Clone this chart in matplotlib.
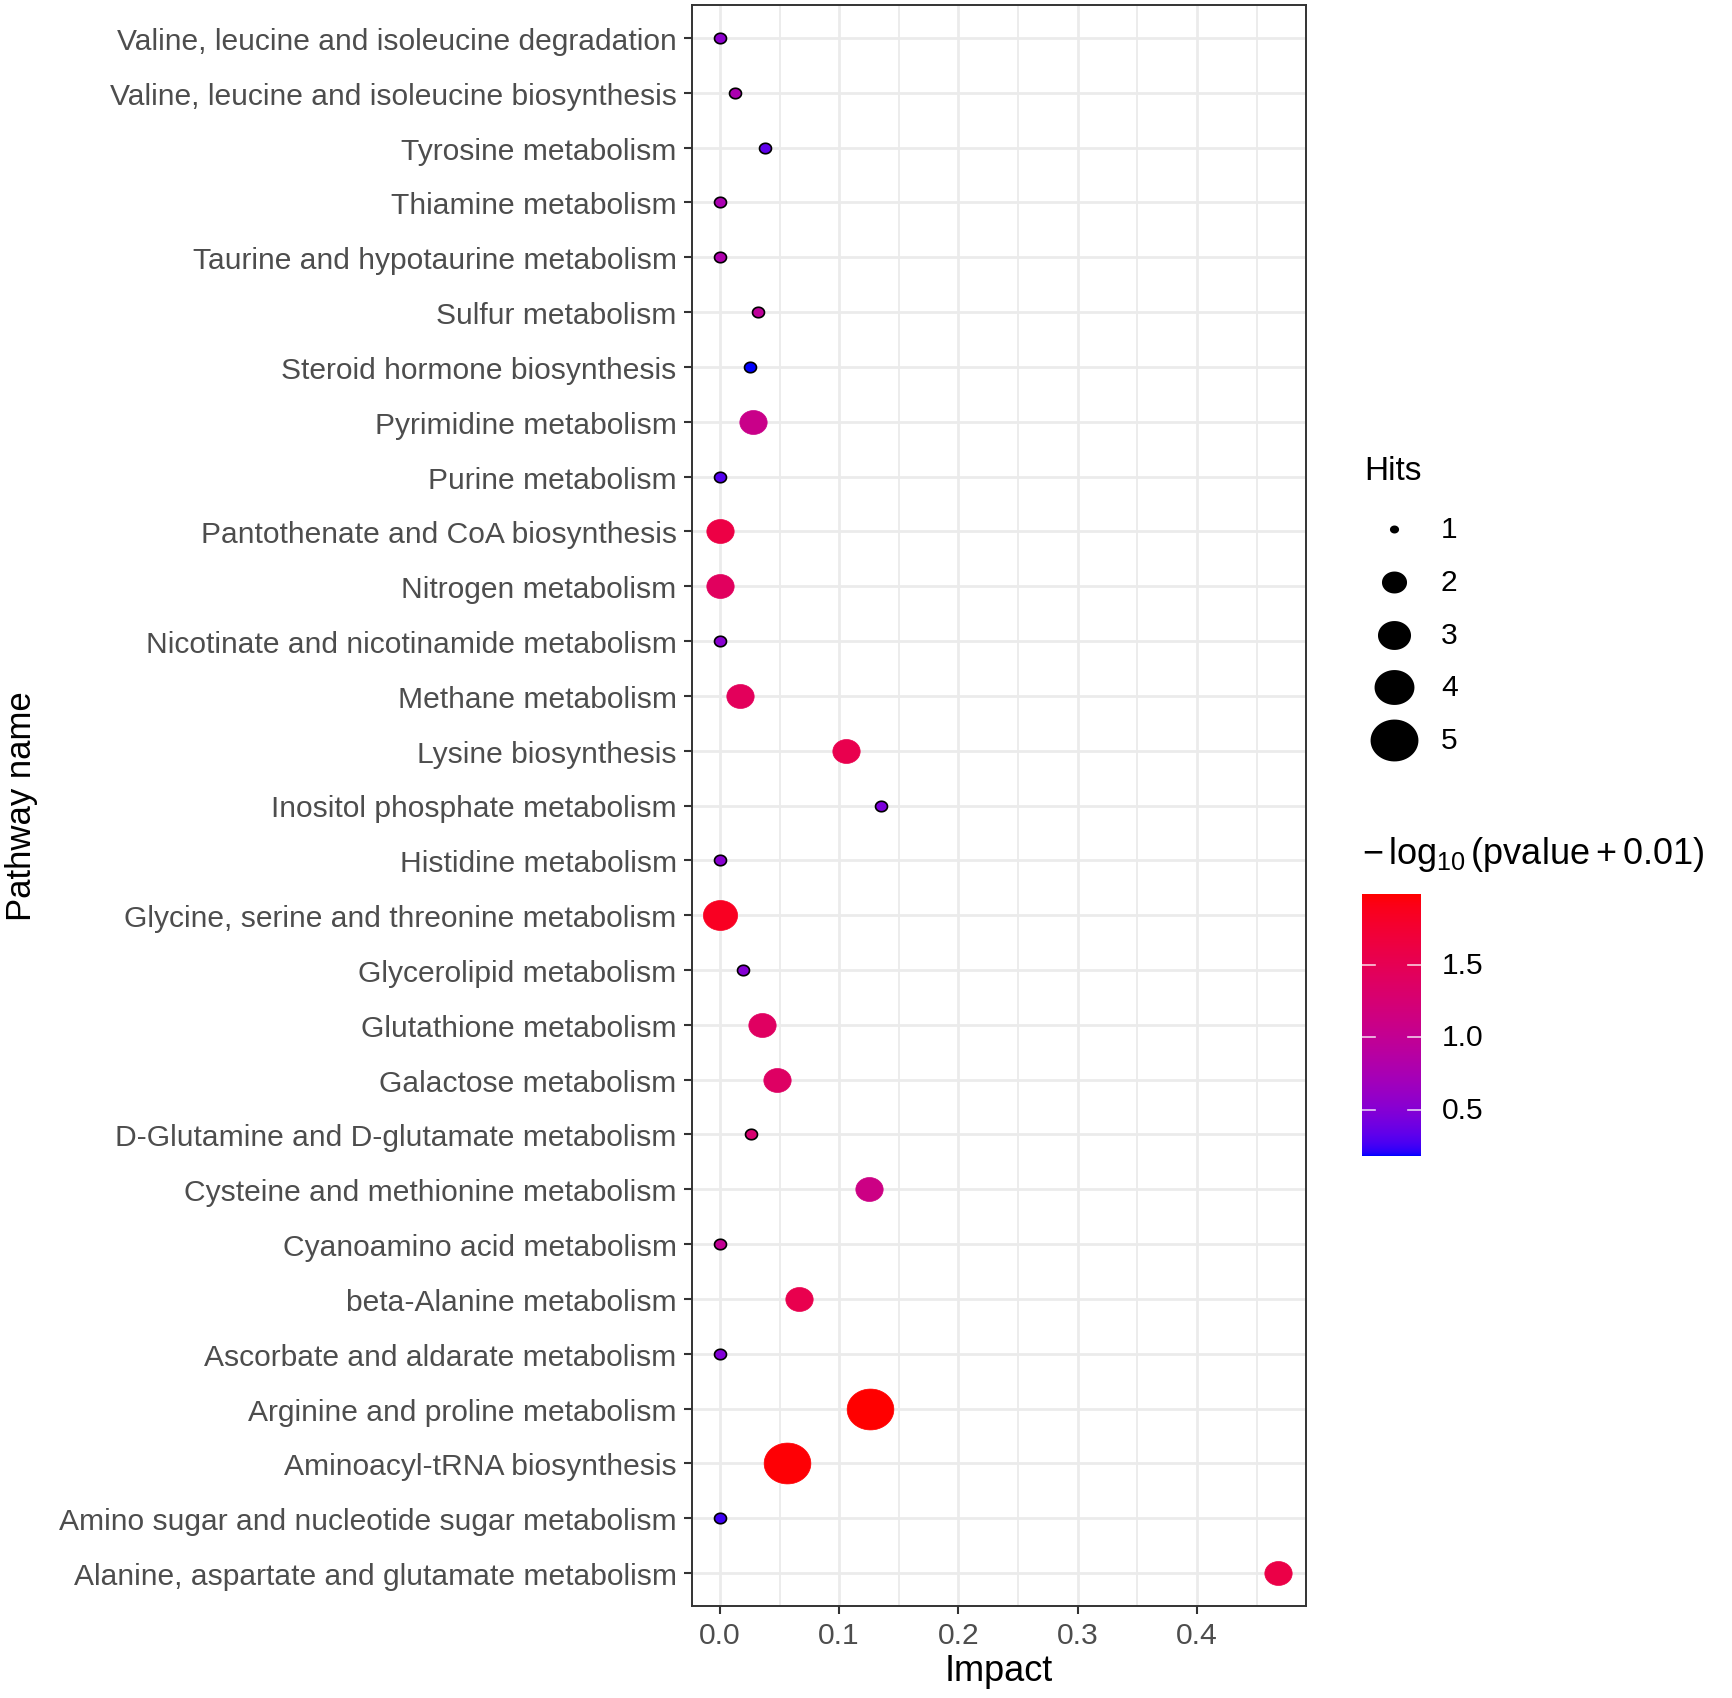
import numpy as np
import matplotlib
matplotlib.use("Agg")
from matplotlib import pyplot as plt
from matplotlib.path import Path
from matplotlib.markers import MarkerStyle
from matplotlib.colors import ListedColormap, Normalize

plt.rcParams['font.family'] = ['Liberation Sans', 'DejaVu Sans']
plt.rcParams['mathtext.fontset'] = 'custom'
plt.rcParams['mathtext.rm'] = 'Liberation Sans'
plt.rcParams['mathtext.it'] = 'Liberation Sans:italic'

# pathways, listed top to bottom as in the chart
pathways = [
    "Valine, leucine and isoleucine degradation",
    "Valine, leucine and isoleucine biosynthesis",
    "Tyrosine metabolism",
    "Thiamine metabolism",
    "Taurine and hypotaurine metabolism",
    "Sulfur metabolism",
    "Steroid hormone biosynthesis",
    "Pyrimidine metabolism",
    "Purine metabolism",
    "Pantothenate and CoA biosynthesis",
    "Nitrogen metabolism",
    "Nicotinate and nicotinamide metabolism",
    "Methane metabolism",
    "Lysine biosynthesis",
    "Inositol phosphate metabolism",
    "Histidine metabolism",
    "Glycine, serine and threonine metabolism",
    "Glycerolipid metabolism",
    "Glutathione metabolism",
    "Galactose metabolism",
    "D-Glutamine and D-glutamate metabolism",
    "Cysteine and methionine metabolism",
    "Cyanoamino acid metabolism",
    "beta-Alanine metabolism",
    "Ascorbate and aldarate metabolism",
    "Arginine and proline metabolism",
    "Aminoacyl-tRNA biosynthesis",
    "Amino sugar and nucleotide sugar metabolism",
    "Alanine, aspartate and glutamate metabolism",
]
impact = [0.0, 0.013, 0.038, 0.0, 0.0, 0.032, 0.025, 0.028, 0.0, 0.0,
          0.0, 0.0, 0.017, 0.106, 0.135, 0.0, 0.0, 0.019, 0.035, 0.048,
          0.026, 0.125, 0.0, 0.066, 0.0, 0.1255, 0.056, 0.0, 0.468]
hits = [1, 1, 1, 1, 1, 1, 1, 2, 1, 2,
        2, 1, 2, 2, 1, 1, 3, 1, 2, 2,
        1, 2, 1, 2, 1, 5, 5, 1, 2]
neglogp = [0.55, 0.78, 0.33, 0.76, 0.8, 0.95, 0.18, 1.08, 0.3, 1.62,
           1.42, 0.52, 1.45, 1.55, 0.45, 0.52, 1.85, 0.5, 1.4, 1.38,
           1.28, 1.12, 1.0, 1.55, 0.48, 1.99, 1.97, 0.25, 1.6]

hit_levels = [1, 2, 3, 4, 5]
cbar_ticks = [0.5, 1.0, 1.5]


# blue -> red gradient interpolated in Lab space (like ggplot)
def rgb_to_lab(rgb):
    c = np.array(rgb, float)
    c = np.where(c <= 0.04045, c / 12.92, ((c + 0.055) / 1.055) ** 2.4)
    M = np.array([[0.4124, 0.3576, 0.1805],
                  [0.2126, 0.7152, 0.0722],
                  [0.0193, 0.1192, 0.9505]])
    xyz = M @ c / np.array([0.95047, 1.0, 1.08883])
    d = 6 / 29
    f = np.where(xyz > d ** 3, np.cbrt(xyz), xyz / (3 * d * d) + 4 / 29)
    return np.array([116 * f[1] - 16, 500 * (f[0] - f[1]), 200 * (f[1] - f[2])])


def lab_to_rgb(lab):
    L, a, b = lab
    fy = (L + 16) / 116
    f = np.array([fy + a / 500, fy, fy - b / 200])
    d = 6 / 29
    xyz = np.where(f > d, f ** 3, 3 * d * d * (f - 4 / 29))
    xyz = xyz * np.array([0.95047, 1.0, 1.08883])
    Minv = np.array([[3.2406, -1.5372, -0.4986],
                     [-0.9689, 1.8758, 0.0415],
                     [0.0557, -0.2040, 1.0570]])
    c = Minv @ xyz
    c = np.clip(c, 0, 1)
    c = np.where(c <= 0.0031308, 12.92 * c, 1.055 * c ** (1 / 2.4) - 0.055)
    return np.clip(c, 0, 1)


lab_lo = rgb_to_lab([0, 0, 1])
lab_hi = rgb_to_lab([1, 0, 0])
cmap = ListedColormap([lab_to_rgb(lab_lo + t * (lab_hi - lab_lo))
                       for t in np.linspace(0, 1, 256)])
norm = Normalize(min(neglogp), max(neglogp))

# slightly wide ellipse marker (the original picture is stretched)
th = np.linspace(0, 2 * np.pi, 60)
ell = MarkerStyle(Path(np.column_stack([np.cos(th), 0.875 * np.sin(th)]), closed=True))
height_px = {1: 10.5, 2: 24, 3: 30, 4: 36, 5: 41}
PX = 100 / 72


def msize(h):
    return (height_px[h] * 1.14 / PX) ** 2


W, H = 1732, 1699
fig = plt.figure(figsize=(W / 100, H / 100), dpi=100)
ax = fig.add_axes([692 / W, 1 - 1607 / H, (1306 - 692) / W, (1607 - 6) / H])

n = len(pathways)
ypos = np.arange(n)[::-1]
cols = cmap(norm(np.array(neglogp)))
for i in range(n):
    edge = 'black' if hits[i] == 1 else cols[i]
    ax.scatter(impact[i], ypos[i], s=msize(hits[i]), marker=ell,
               color=cols[i], edgecolors=edge,
               linewidths=1.2 if hits[i] == 1 else 0.5, zorder=3)

ax.set_xlim(-0.0234, 0.4914)
ax.set_ylim(-0.6, n - 0.4)
ax.set_yticks(ypos)
ax.set_yticklabels(pathways)
ax.set_xticks([0.0, 0.1, 0.2, 0.3, 0.4])
ax.set_xticklabels(['0.0', '0.1', '0.2', '0.3', '0.4'])
ax.set_xticks([0.05, 0.15, 0.25, 0.35, 0.45], minor=True)
ax.grid(True, which='major', color='#EBEBEB', linewidth=2.0, zorder=0)
ax.grid(True, which='minor', axis='x', color='#EBEBEB', linewidth=1.3, zorder=0)
ax.set_axisbelow(True)
ax.tick_params(axis='both', which='major', length=6, width=1.5, color='#333333',
               labelsize=21.6, labelcolor='#4D4D4D', pad=5)
ax.tick_params(axis='x', which='minor', length=0)
for sp in ax.spines.values():
    sp.set_color('#333333')
    sp.set_linewidth(1.4)

fig.text(999 / W, 1 - 1672 / H, 'Impact', ha='center', va='center', fontsize=26)
fig.text(22 / W, 1 - 806 / H, 'Pathway name', ha='center', va='center',
         rotation=90, fontsize=25)

# Hits legend
lax = fig.add_axes([0, 0, 1, 1])
lax.set_xlim(0, W)
lax.set_ylim(H, 0)
lax.axis('off')
lax.patch.set_alpha(0)
lax.text(1364, 472, 'Hits', ha='left', va='center', fontsize=24)
key_h = {1: 8, 2: 22, 3: 29, 4: 35, 5: 42}
for k, h in enumerate(hit_levels):
    yk = 530 + k * 52.8
    lax.scatter(1394, yk, s=(key_h[h] * 1.14 / PX) ** 2, marker=ell,
                color='black', linewidths=0)
    lax.text(1441, yk, str(h), ha='left', va='center', fontsize=21.6)

# colour bar
lax.text(1362, 855, r'$-\,\log_{10}(\mathrm{pvalue}+0.01)$', ha='left',
         va='center', fontsize=26)
cax = fig.add_axes([1362 / W, 1 - 1157 / H, 59 / W, 262 / H])
grad = np.linspace(norm.vmin, norm.vmax, 256).reshape(-1, 1)
cax.imshow(grad, cmap=cmap, norm=norm, aspect='auto', origin='lower',
           extent=[0, 1, norm.vmin, norm.vmax])
cax.set_xlim(0, 1)
cax.set_ylim(norm.vmin, norm.vmax)
cax.axis('off')
for t in cbar_ticks:
    cax.plot([0, 0.22], [t, t], color='white', lw=1.2, alpha=0.8)
    cax.plot([0.78, 1], [t, t], color='white', lw=1.2, alpha=0.8)
    cax.text(1.35, t, f'{t:.1f}', transform=cax.transData, ha='left',
             va='center', fontsize=21.6)

fig.savefig('out.png', dpi=100)
